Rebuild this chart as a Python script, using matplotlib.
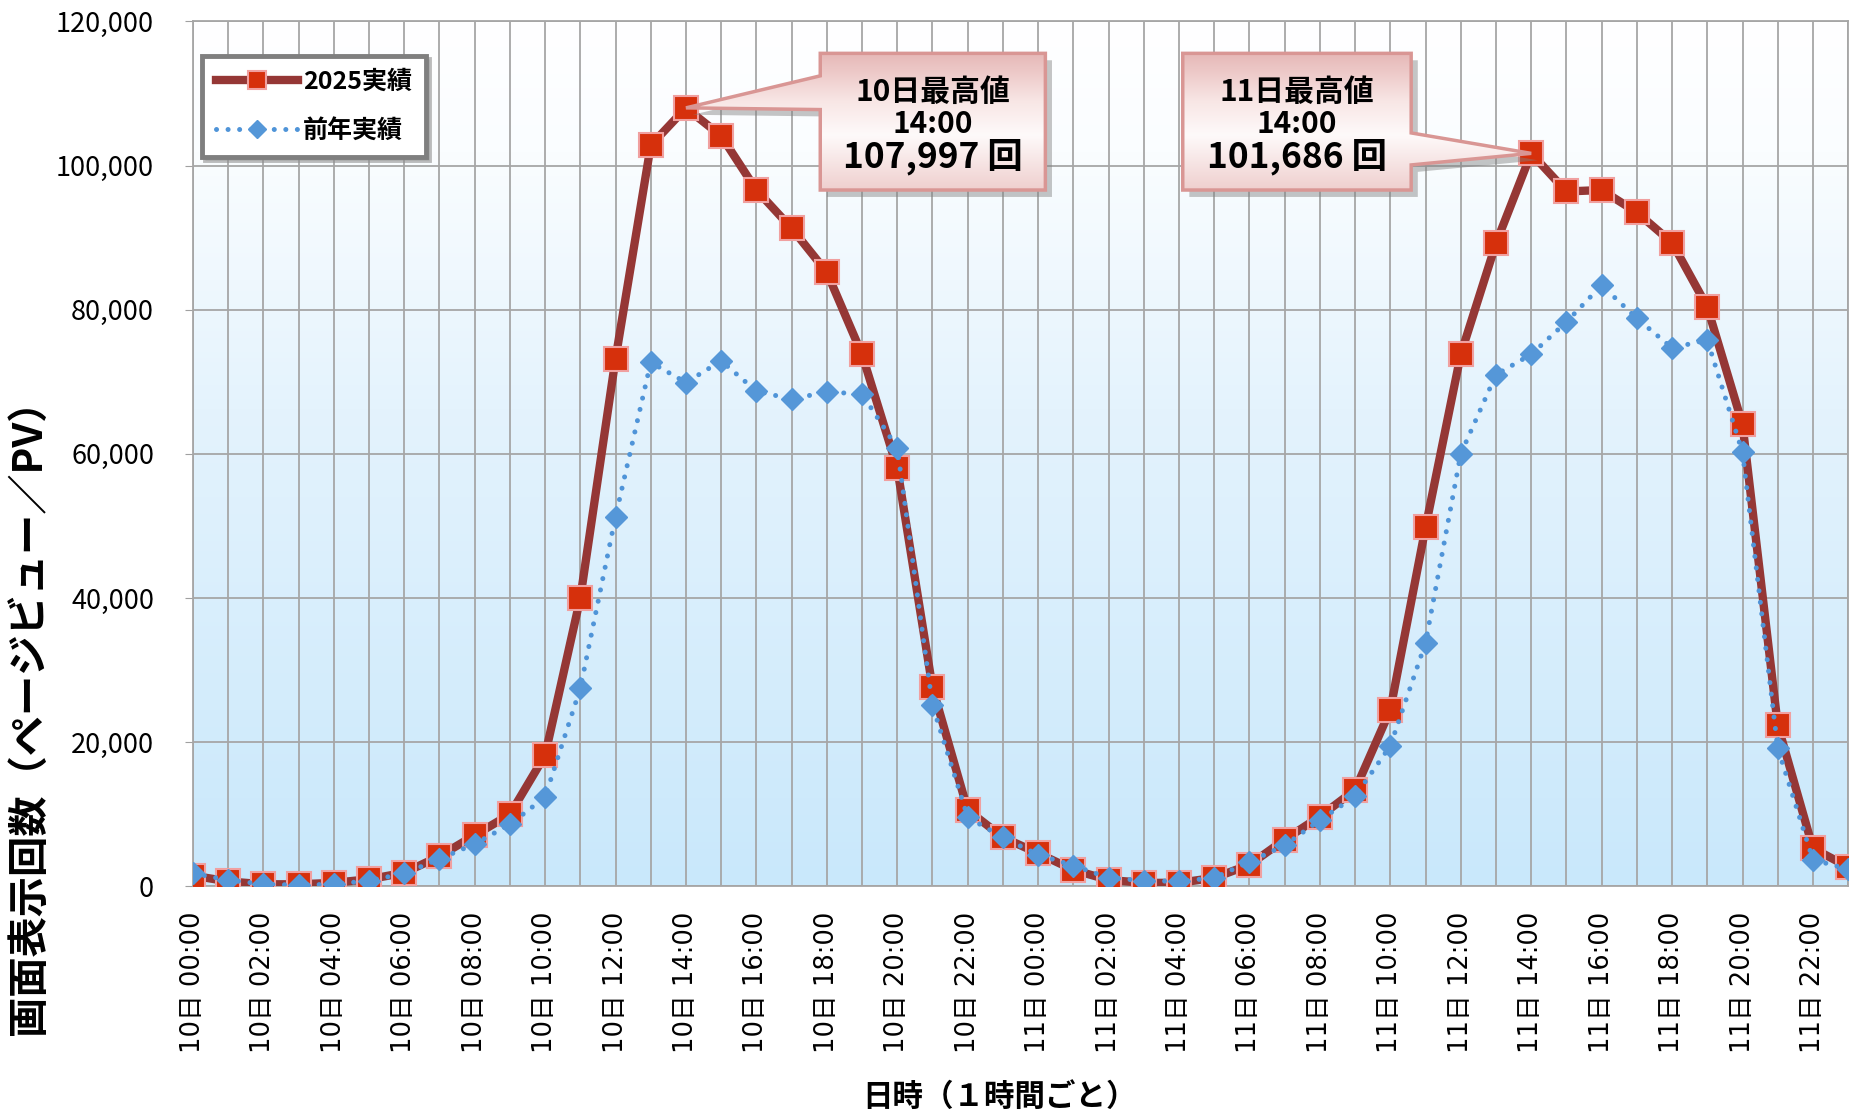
import numpy as np
import matplotlib
matplotlib.use('Agg')
import matplotlib.pyplot as plt
from matplotlib.patches import Polygon
from matplotlib.colors import LinearSegmentedColormap
from matplotlib.ticker import FuncFormatter

plt.rcParams['font.family'] = ['Noto Sans CJK JP', 'DejaVu Sans']

# data: hourly page views, 10th and 11th
days = ['10日', '11日']
hours = ['00:00', '01:00', '02:00', '03:00', '04:00', '05:00', '06:00', '07:00',
         '08:00', '09:00', '10:00', '11:00', '12:00', '13:00', '14:00', '15:00',
         '16:00', '17:00', '18:00', '19:00', '20:00', '21:00', '22:00', '23:00']
time_labels = [d + ' ' + h for d in days for h in hours]

pv_2025 = [1500, 700, 300, 300, 500, 1000, 1900, 4200, 7100, 10000, 18200, 40000,
           73200, 102800, 107997, 104100, 96600, 91300, 85200, 73800, 58000, 27600, 10600, 6800,
           4600, 2300, 900, 500, 500, 1200, 3000, 6500, 9700, 13400, 24500, 49800,
           73800, 89200, 101686, 96400, 96600, 93500, 89300, 80400, 64100, 22400, 5300, 2700]
pv_prev = [1800, 900, 300, 200, 300, 800, 1800, 3800, 5900, 8600, 12400, 27500,
           51300, 72700, 69900, 72900, 68700, 67600, 68600, 68300, 60800, 25100, 9600, 6800,
           4400, 2900, 1200, 800, 700, 1200, 3400, 5700, 9200, 12500, 19500, 33800,
           60000, 71000, 73800, 78300, 83400, 78800, 74700, 75800, 60200, 19200, 3700, 2400]

series_names = ['2025実績', '前年実績']
y_label = '画面表示回数（ページビュー／PV）'
x_label = '日時（１時間ごと）'

fig = plt.figure(figsize=(18.64, 11.17), dpi=100)
ax = fig.add_axes([0.1035, 0.2064, 0.888, 0.7745])

x = np.arange(len(pv_2025))
ax.set_xlim(0, len(x) - 1)
ax.set_ylim(0, 120000)

# plot area background gradient (white top -> light blue bottom)
bg = LinearSegmentedColormap.from_list('bg', [(0, '#c9e8fb'), (0.55, '#e4f3fd'),
                                              (0.85, '#fafdff'), (1, '#ffffff')])
grad = np.linspace(0, 1, 256).reshape(-1, 1)
ax.imshow(grad, cmap=bg, extent=[0, 1, 0, 1], transform=ax.transAxes,
          aspect='auto', origin='lower', zorder=0)

# grid
ax.set_xticks(x[::2])
ax.set_xticks(x[1::2], minor=True)
ax.set_xticklabels(time_labels[::2], rotation=90, family=['DejaVu Sans', 'Noto Sans CJK JP'],
                   fontsize=18.5)
ax.set_yticks(np.arange(0, 120001, 20000))
ax.yaxis.set_major_formatter(FuncFormatter(lambda v, p: f'{int(v):,}'))
ax.tick_params(axis='y', labelsize=19.5, length=6, pad=22, color='#a0a0a0')
ax.tick_params(axis='x', which='both', length=0, pad=18)
ax.grid(True, which='both', axis='x', color='#a6a6a6', lw=1.3, zorder=1)
ax.grid(True, which='major', axis='y', color='#a6a6a6', lw=1.3, zorder=1)
ax.set_axisbelow(True)
for s in ax.spines.values():
    s.set_color('#a6a6a6')
    s.set_linewidth(1.3)

ax.plot(x, pv_2025, color='#953735', lw=6, marker='s', ms=17,
        mfc='#d6300c', mec='#f0a0a0', mew=1.5, label=series_names[0], zorder=3)
ax.plot(x, pv_prev, color='#4f94d8', lw=3.6, linestyle=(0, (0.01, 2.3)),
        dash_capstyle='round', marker='D', ms=11, mfc='#5597d8', mec='#5597d8',
        label=series_names[1], zorder=4)

leg = ax.legend(loc='upper left', bbox_to_anchor=(-0.002, 0.974), frameon=True,
                fancybox=False, shadow={'color': '#909090', 'alpha': 0.6},
                edgecolor='#7f7f7f', framealpha=1, prop=dict(weight='bold', size=18),
                handlelength=3.3, handletextpad=0.2, borderpad=0.55, labelspacing=1.0,
                markerscale=0.8, numpoints=1)
leg.get_frame().set_linewidth(3.5)
leg.set_zorder(8)

# callouts for peaks
pink = LinearSegmentedColormap.from_list('pink', [(0, '#efcfce'), (0.4, '#fefafa'),
                                                  (0.65, '#f8e6e5'), (1, '#e6b7b6')])


def callout(idx, box, base, side, lines):
    L, B, R, T = box
    tip = ax.transAxes.inverted().transform(ax.transData.transform((x[idx], pv_2025[idx])))
    tip = tuple(tip)
    if side == 'left':
        verts = [(L, T), (L, base[1]), tip, (L, base[0]), (L, B), (R, B), (R, T)]
    else:
        verts = [(L, T), (L, B), (R, B), (R, base[0]), tip, (R, base[1]), (R, T)]
    shadow = Polygon([(vx + 0.004, vy - 0.008) for vx, vy in verts], closed=True,
                     transform=ax.transAxes, facecolor='#808080', alpha=0.45,
                     edgecolor='none', zorder=5)
    ax.add_patch(shadow)
    poly = Polygon(verts, closed=True, transform=ax.transAxes, facecolor='none',
                   edgecolor='#d99694', lw=2.5, zorder=7)
    ax.add_patch(poly)
    img = ax.imshow(grad, cmap=pink, extent=[min(L, tip[0]), max(R, tip[0]), B, T],
                    transform=ax.transAxes, aspect='auto', origin='lower', zorder=6)
    img.set_clip_path(poly)
    cx = (L + R) / 2
    ax.text(cx, 0.918, lines[0], transform=ax.transAxes, ha='center', va='center',
            fontsize=21.5, weight='bold', zorder=8)
    ax.text(cx, 0.881, lines[1], transform=ax.transAxes, ha='center', va='center',
            fontsize=21.5, weight='bold', zorder=8)
    ax.text(cx, 0.843, lines[2], transform=ax.transAxes, ha='center', va='center',
            fontsize=25.5, weight='bold', zorder=8)


peak10 = int(np.argmax(pv_2025[:24]))
peak11 = 24 + int(np.argmax(pv_2025[24:]))
callout(peak10, (0.379, 0.805, 0.515, 0.963), (0.898, 0.937), 'left',
        ['10日最高値', hours[peak10], f'{pv_2025[peak10]:,} 回'])
callout(peak11, (0.598, 0.805, 0.736, 0.963), (0.834, 0.871), 'right',
        ['11日最高値', hours[peak11 - 24], f'{pv_2025[peak11]:,} 回'])

fig.text(0.016, 0.367, y_label, rotation=90, ha='center', va='center',
         fontsize=29, weight='bold')
fig.text(0.536, 0.018, x_label, ha='center', va='center', fontsize=22, weight='bold')

fig.savefig('out.png', dpi=100)
